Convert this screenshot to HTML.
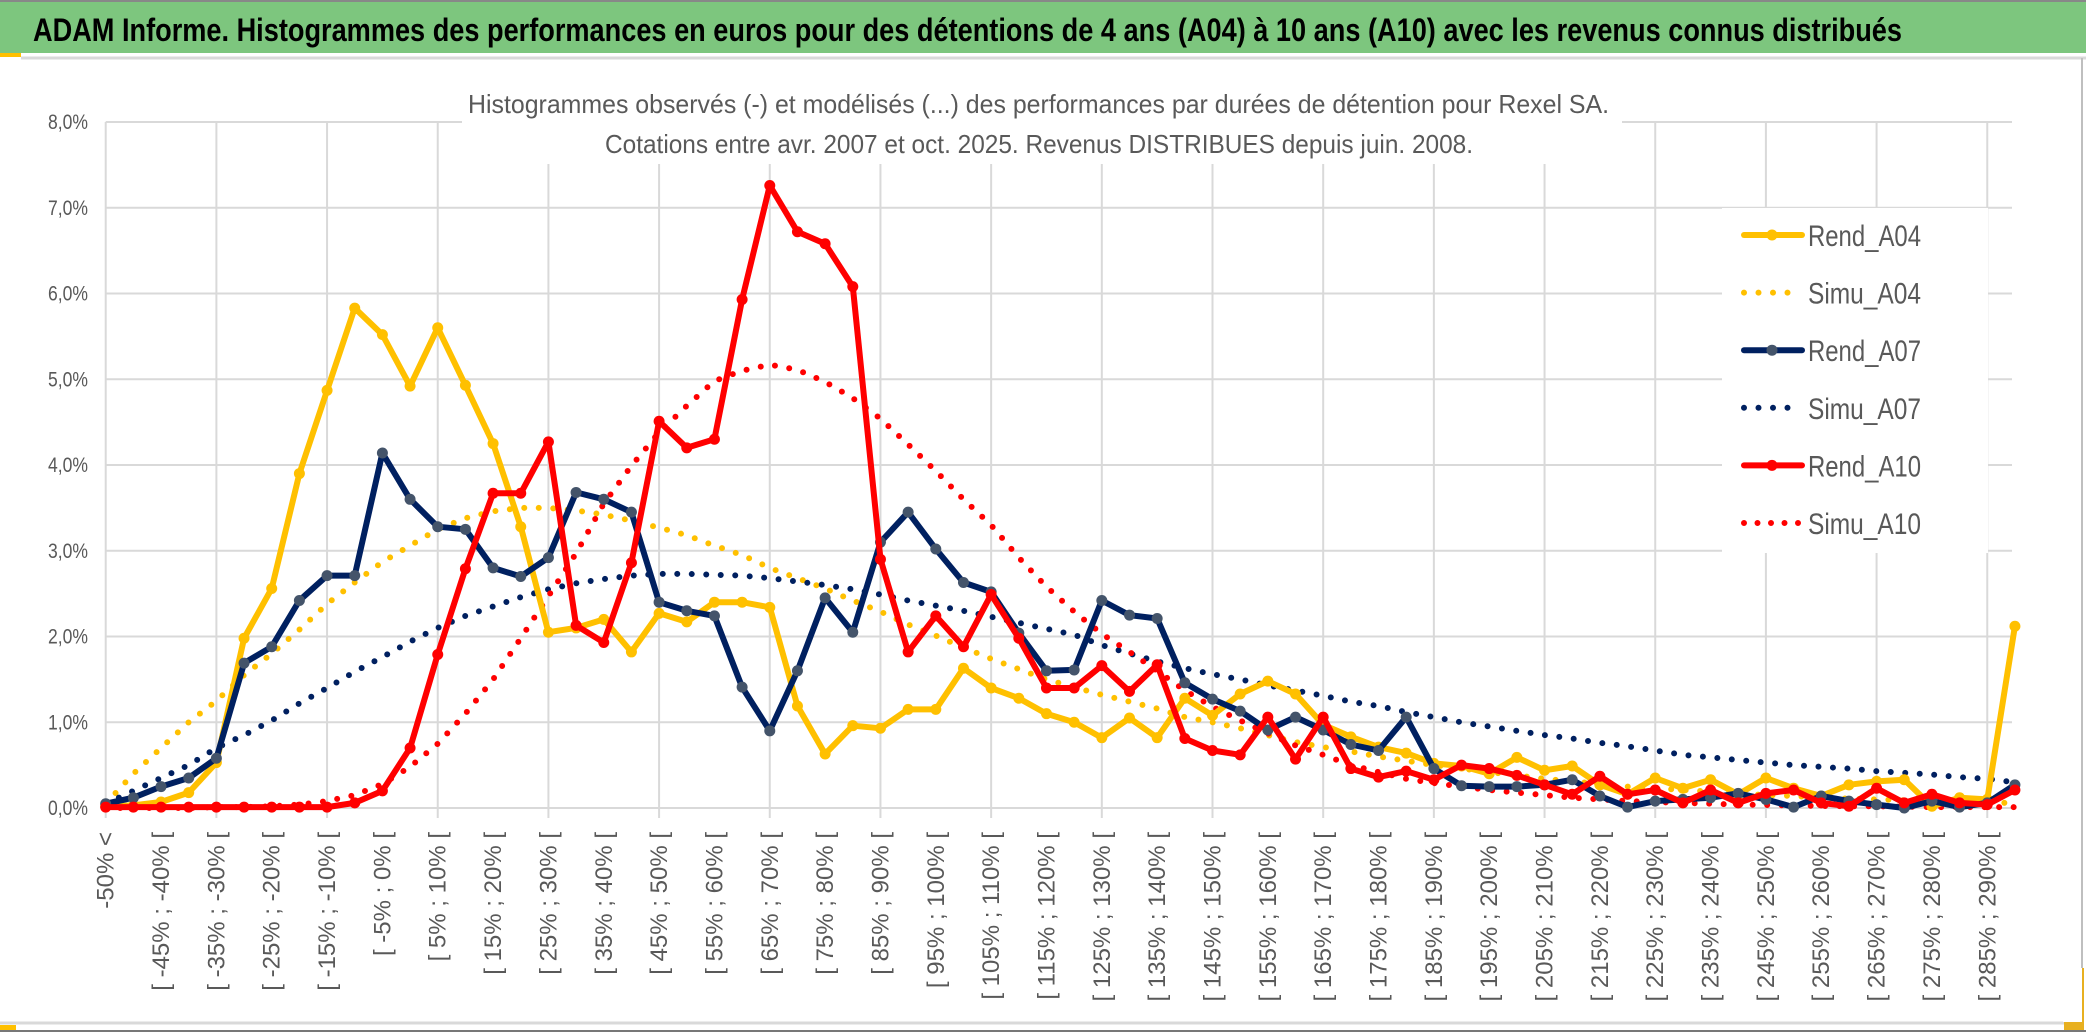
<!DOCTYPE html>
<html><head><meta charset="utf-8"><style>
html,body{margin:0;padding:0;background:#fff;}
svg{display:block;}
</style></head><body>
<svg id="chart" width="2086" height="1033" viewBox="0 0 2086 1033" xmlns="http://www.w3.org/2000/svg" font-family="Liberation Sans, sans-serif">
<rect x="0" y="0" width="2086" height="1033" fill="#fff"/>
<rect x="0" y="2" width="2086" height="51" fill="#7DC67E"/>
<line x1="0" y1="1" x2="2086" y2="1" stroke="#888" stroke-width="2"/>
<rect x="0" y="53" width="21" height="4" fill="#FFC000"/>
<line x1="21" y1="58" x2="2086" y2="58" stroke="#d9d9d9" stroke-width="3"/>
<text x="33" y="41" font-size="32" font-weight="bold" fill="#000" textLength="1869" lengthAdjust="spacingAndGlyphs">ADAM Informe. Histogrammes des performances en euros pour des détentions de 4 ans (A04) à 10 ans (A10) avec les revenus connus distribués</text>
<line x1="2082" y1="58" x2="2082" y2="1025" stroke="#bfbfbf" stroke-width="2"/>
<line x1="0" y1="1023" x2="2082" y2="1023" stroke="#d9d9d9" stroke-width="3"/>
<line x1="0" y1="1031" x2="2086" y2="1031" stroke="#777" stroke-width="2"/>
<rect x="0" y="1025" width="16" height="5" fill="#FFC000"/>
<rect x="2064" y="968" width="20" height="62" fill="#E8B020"/>
<rect x="2063" y="968" width="19" height="54" fill="#fff"/>
<g id="grid"></g>
<rect x="462" y="88" width="1160" height="76" fill="#fff"/>
<text x="468" y="113" font-size="26" fill="#595959" textLength="1141" lengthAdjust="spacingAndGlyphs">Histogrammes observés (-) et modélisés (...) des performances par durées de détention pour Rexel SA.</text>
<text x="605" y="153" font-size="26" fill="#595959" textLength="868" lengthAdjust="spacingAndGlyphs">Cotations entre avr. 2007 et oct. 2025. Revenus DISTRIBUES depuis juin. 2008.</text>
<g id="series"></g>
<g id="legend"></g>
<g id="xlabels"></g>
<g id="ylabels"></g>
</svg>
<script>
const categories = ["-50% <","[ -50% ; -45% [","[ -45% ; -40% [","[ -40% ; -35% [","[ -35% ; -30% [","[ -30% ; -25% [","[ -25% ; -20% [","[ -20% ; -15% [","[ -15% ; -10% [","[ -10% ; -5% [","[ -5% ; 0% [","[ 0% ; 5% [","[ 5% ; 10% [","[ 10% ; 15% [","[ 15% ; 20% [","[ 20% ; 25% [","[ 25% ; 30% [","[ 30% ; 35% [","[ 35% ; 40% [","[ 40% ; 45% [","[ 45% ; 50% [","[ 50% ; 55% [","[ 55% ; 60% [","[ 60% ; 65% [","[ 65% ; 70% [","[ 70% ; 75% [","[ 75% ; 80% [","[ 80% ; 85% [","[ 85% ; 90% [","[ 90% ; 95% [","[ 95% ; 100% [","[ 100% ; 105% [","[ 105% ; 110% [","[ 110% ; 115% [","[ 115% ; 120% [","[ 120% ; 125% [","[ 125% ; 130% [","[ 130% ; 135% [","[ 135% ; 140% [","[ 140% ; 145% [","[ 145% ; 150% [","[ 150% ; 155% [","[ 155% ; 160% [","[ 160% ; 165% [","[ 165% ; 170% [","[ 170% ; 175% [","[ 175% ; 180% [","[ 180% ; 185% [","[ 185% ; 190% [","[ 190% ; 195% [","[ 195% ; 200% [","[ 200% ; 205% [","[ 205% ; 210% [","[ 210% ; 215% [","[ 215% ; 220% [","[ 220% ; 225% [","[ 225% ; 230% [","[ 230% ; 235% [","[ 235% ; 240% [","[ 240% ; 245% [","[ 245% ; 250% [","[ 250% ; 255% [","[ 255% ; 260% [","[ 260% ; 265% [","[ 265% ; 270% [","[ 270% ; 275% [","[ 275% ; 280% [","[ 280% ; 285% [","[ 285% ; 290% [","[ 290% ; 295% ["];
const rendA04 = [0.02,0.03,0.07,0.18,0.53,1.98,2.56,3.9,4.87,5.83,5.52,4.92,5.6,4.93,4.25,3.28,2.05,2.1,2.2,1.82,2.27,2.17,2.4,2.4,2.34,1.19,0.63,0.96,0.93,1.15,1.15,1.63,1.4,1.28,1.1,1.0,0.82,1.05,0.82,1.28,1.08,1.33,1.48,1.33,0.97,0.83,0.71,0.64,0.52,0.49,0.4,0.59,0.44,0.49,0.27,0.16,0.35,0.23,0.33,0.16,0.35,0.23,0.14,0.27,0.31,0.33,0.02,0.12,0.1,2.12];
const simuA04 = [0.05,0.4,0.7,1.0,1.25,1.55,1.8,2.08,2.38,2.63,2.87,3.06,3.25,3.38,3.46,3.5,3.5,3.47,3.42,3.35,3.27,3.18,3.06,2.95,2.8,2.68,2.56,2.42,2.29,2.14,2.01,1.87,1.74,1.62,1.5,1.41,1.32,1.24,1.16,1.06,1.0,0.93,0.85,0.77,0.71,0.66,0.6,0.55,0.5,0.46,0.42,0.38,0.34,0.31,0.28,0.25,0.23,0.21,0.19,0.17,0.15,0.14,0.12,0.11,0.1,0.09,0.08,0.07,0.06,0.06];
const rendA07 = [0.05,0.12,0.25,0.35,0.58,1.69,1.88,2.42,2.71,2.71,4.14,3.6,3.28,3.25,2.8,2.7,2.92,3.68,3.6,3.45,2.4,2.3,2.24,1.41,0.9,1.6,2.45,2.05,3.1,3.45,3.02,2.63,2.52,2.04,1.6,1.61,2.42,2.25,2.21,1.46,1.27,1.13,0.91,1.06,0.91,0.74,0.67,1.06,0.46,0.26,0.25,0.25,0.27,0.33,0.14,0.01,0.08,0.1,0.12,0.17,0.1,0.01,0.14,0.08,0.04,0.0,0.08,0.01,0.06,0.27];
const simuA07 = [0.05,0.2,0.35,0.5,0.7,0.85,1.02,1.22,1.4,1.59,1.76,1.94,2.1,2.24,2.35,2.46,2.55,2.62,2.67,2.71,2.73,2.73,2.72,2.71,2.68,2.64,2.6,2.55,2.49,2.42,2.36,2.3,2.23,2.16,2.09,2.02,1.9,1.8,1.71,1.63,1.56,1.5,1.43,1.37,1.31,1.24,1.19,1.12,1.06,1.0,0.95,0.9,0.85,0.81,0.76,0.72,0.67,0.62,0.59,0.56,0.53,0.5,0.48,0.46,0.43,0.41,0.39,0.36,0.34,0.3];
const rendA10 = [0.01,0.01,0.01,0.01,0.01,0.01,0.01,0.01,0.01,0.06,0.2,0.7,1.79,2.79,3.67,3.67,4.27,2.13,1.93,2.86,4.51,4.2,4.3,5.93,7.26,6.72,6.58,6.08,2.9,1.82,2.24,1.88,2.49,1.98,1.4,1.4,1.66,1.36,1.67,0.81,0.67,0.62,1.06,0.57,1.06,0.46,0.36,0.43,0.33,0.5,0.46,0.38,0.27,0.16,0.37,0.16,0.21,0.06,0.21,0.06,0.17,0.21,0.06,0.02,0.23,0.06,0.16,0.06,0.04,0.21];
const simuA10 = [0,0,0,0,0.01,0.01,0.02,0.04,0.08,0.15,0.28,0.48,0.75,1.1,1.5,1.98,2.47,2.97,3.55,3.99,4.38,4.69,4.98,5.1,5.17,5.11,4.97,4.78,4.54,4.24,3.93,3.6,3.3,2.92,2.58,2.29,2.03,1.82,1.6,1.37,1.18,1.02,0.87,0.73,0.62,0.5,0.42,0.34,0.29,0.25,0.21,0.18,0.15,0.12,0.1,0.08,0.07,0.06,0.05,0.04,0.035,0.03,0.025,0.02,0.02,0.015,0.01,0.01,0.01,0.01];
const yTicks = ["0,0%","1,0%","2,0%","3,0%","4,0%","5,0%","6,0%","7,0%","8,0%"];
const legendLabels = ["Rend_A04","Simu_A04","Rend_A07","Simu_A07","Rend_A10","Simu_A10"];

const NS = "http://www.w3.org/2000/svg";
const X0 = 105.7, STEP = 27.67, Y0 = 808, YPX = 85.75, XR = 2012;
function xPos(i){ return X0 + STEP*i; }
function yPos(v){ return Y0 - YPX*v; }
function mk(tag, attrs, parent){ const e=document.createElementNS(NS,tag); for(const k in attrs) e.setAttribute(k,attrs[k]); parent.appendChild(e); return e; }

const grid = document.getElementById('grid');
for(let t=0;t<yTicks.length;t++){
  const l = mk('line',{x1:X0,x2:XR,y1:yPos(t),y2:yPos(t),stroke:'#d9d9d9','stroke-width':2},grid);
  
  
}
for(let i=0;i<categories.length;i+=4){
  const l = mk('line',{x1:xPos(i),x2:xPos(i),y1:yPos(8),y2:yPos(0)+10,stroke:'#d9d9d9','stroke-width':2},grid);
  
  
}
const ylab = document.getElementById('ylabels');
yTicks.forEach((t,k)=>{
  const tx = mk('text',{x:88,y:yPos(k)+7,'text-anchor':'end','font-size':21,fill:'#595959',textLength:40,lengthAdjust:'spacingAndGlyphs'},ylab);
  tx.textContent=t;
  
  
});
const xlab = document.getElementById('xlabels');
categories.forEach((c,i)=>{
  if(i%2) return;
  const x=xPos(i)+8, y=832;
  const tx = mk('text',{x:x,y:y,transform:`rotate(-90 ${x} ${y})`,'text-anchor':'end','font-size':24,fill:'#595959'},xlab);
  tx.textContent=c;
  
  
});

const series = document.getElementById('series');
const defs = [
  {d:simuA04,color:'#FFC000',dotted:true,name:'simu-a04-line'},
  {d:simuA07,color:'#002060',dotted:true,name:'simu-a07-line'},
  {d:simuA10,color:'#FF0000',dotted:true,name:'simu-a10-line'},
  {d:rendA04,color:'#FFC000',marker:'#FFC000',name:'rend-a04-line'},
  {d:rendA07,color:'#002060',marker:'#44546A',name:'rend-a07-line'},
  {d:rendA10,color:'#FF0000',marker:'#FF0000',name:'rend-a10-line'}
];
defs.forEach(s=>{
  const pts = s.d.map((v,i)=>xPos(i).toFixed(1)+','+yPos(v).toFixed(1)).join(' ');
  const pl = mk('polyline',{points:pts,fill:'none',stroke:s.color,'stroke-width':s.dotted?6:6,'stroke-linejoin':'round','stroke-linecap':'round'},series);
  if(s.dotted){ pl.setAttribute('stroke-dasharray','0 14.5'); }
  
  
  if(s.marker){
    s.d.forEach((v,i)=>{
      const c = mk('circle',{cx:xPos(i),cy:yPos(v),r:5.5,fill:s.marker},series);
      
      
    });
  }
});

const leg = document.getElementById('legend');
const lbg = mk('rect',{x:1722,y:208,width:266,height:345,fill:'#fff'},leg);


const legColors=['#FFC000','#FFC000','#002060','#002060','#FF0000','#FF0000'];
const legMarkers=['#FFC000',null,'#44546A',null,'#FF0000',null];
legendLabels.forEach((lab,k)=>{
  const cy = 235 + k*57.6;
  const g = mk('g',{},leg);
  
  
  const ln = mk('line',{x1:1744,x2:1802,y1:cy,y2:cy,stroke:legColors[k],'stroke-width':6,'stroke-linecap':'round'},g);
  if(!legMarkers[k]) ln.setAttribute('stroke-dasharray', k===5?'0 13.5':'0 14.5');
  if(legMarkers[k]) mk('circle',{cx:1772,cy:cy,r:5.5,fill:legMarkers[k]},g);
  const tx = mk('text',{x:1808,y:cy+11,'font-size':30,fill:'#595959',textLength:113,lengthAdjust:'spacingAndGlyphs'},g);
  tx.textContent=lab;
});
</script>
</body></html>
